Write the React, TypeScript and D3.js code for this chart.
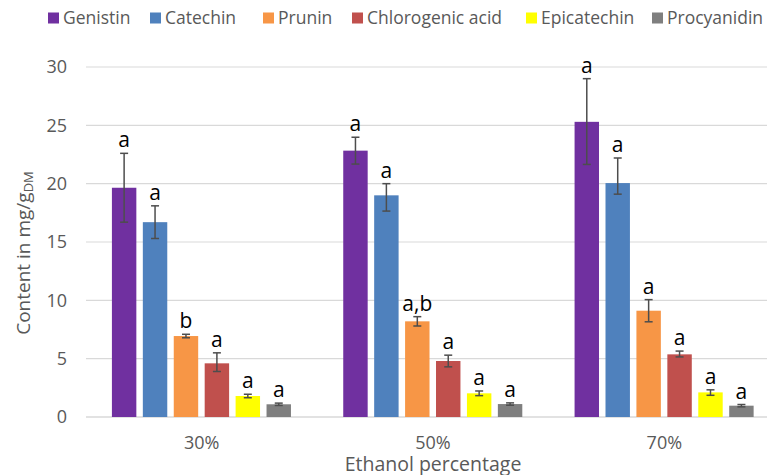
import React from "react";
import * as d3 from "d3";

const categories = ["30%", "50%", "70%"];
const seriesNames = ["Genistin", "Catechin", "Prunin", "Chlorogenic acid", "Epicatechin", "Procyanidin"];
const seriesColors = ["#7030a0", "#4f81bd", "#f79646", "#c0504d", "#ffff00", "#7f7f7f"];
// values[series][category]
const genistin = [19.65, 22.83, 25.3];
const catechin = [16.7, 19.0, 20.05];
const prunin = [6.94, 8.2, 9.11];
const chlorogenic = [4.6, 4.8, 5.37];
const epicatechin = [1.8, 2.03, 2.11];
const procyanidin = [1.09, 1.11, 0.97];
const errUp = [
  [2.95, 1.15, 3.7],
  [1.4, 1.0, 2.15],
  [0.15, 0.4, 0.95],
  [0.9, 0.5, 0.28],
  [0.15, 0.2, 0.22],
  [0.1, 0.1, 0.1],
];
const errDown = [
  [2.95, 1.15, 3.65],
  [1.4, 1.35, 0.95],
  [0.15, 0.4, 0.95],
  [0.7, 0.5, 0.22],
  [0.15, 0.2, 0.25],
  [0.1, 0.1, 0.1],
];
const letters = [
  ["a", "a", "a"],
  ["a", "a", "a"],
  ["b", "a,b", "a"],
  ["a", "a", "a"],
  ["a", "a", "a"],
  ["a", "a", "a"],
];
const yTicks = [0, 5, 10, 15, 20, 25, 30];

const values = [genistin, catechin, prunin, chlorogenic, epicatechin, procyanidin];

const FONT = "'Open Sans', 'Noto Sans', sans-serif";
const legendX = [48, 150, 263, 352, 526, 652];

export default function App() {
  const W = 767, H = 475;
  const y = d3.scaleLinear().domain([0, 30]).range([417, 67]);
  const x0 = d3.scaleBand<string>().domain(categories).range([86, 780]).padding(0);
  const bw0 = x0.bandwidth();
  const x1 = d3
    .scaleBand<string>()
    .domain(seriesNames)
    .range([bw0 * 0.112, bw0 * 0.886])
    .paddingInner(0.21)
    .paddingOuter(0);
  const bw = x1.bandwidth();

  return (
    <svg width={W} height={H} style={{ position: "absolute", left: 0, top: 0, background: "#fff" }}>
      <rect x={0} y={0} width={W} height={H} fill="#fff" />
      {/* gridlines */}
      {yTicks.map((t) => (
        <line key={t} x1={86} x2={W} y1={y(t)} y2={y(t)} stroke="#d9d9d9" strokeWidth={t === 0 ? 1.5 : 1.2} />
      ))}
      {/* y tick labels */}
      {yTicks.map((t) => (
        <text key={"l" + t} x={67} y={y(t)} dy="0.36em" textAnchor="end" fontFamily={FONT} fontSize={18} fill="#595959">
          {t}
        </text>
      ))}
      {/* y title */}
      <text
        transform={`translate(30,${253}) rotate(-90)`}
        textAnchor="middle"
        fontFamily={FONT}
        fontSize={19}
        fill="#595959"
      >
        Content in mg/g<tspan fontSize={13} dy={3}>DM</tspan>
      </text>
      {/* bars */}
      {categories.map((c, ci) => (
        <g key={c} transform={`translate(${x0(c)},0)`}>
          {seriesNames.map((s, si) => {
            const v = values[si][ci];
            const bx = x1(s)!;
            const cx = bx + bw / 2;
            const top = y(v + errUp[si][ci]);
            const bot = y(v - errDown[si][ci]);
            return (
              <g key={s}>
                <rect x={bx} y={y(v)} width={bw} height={y(0) - y(v)} fill={seriesColors[si]} />
                <line x1={cx} x2={cx} y1={top} y2={bot} stroke="#4d4d4d" strokeWidth={1.5} />
                <line x1={cx - 4} x2={cx + 4} y1={top} y2={top} stroke="#4d4d4d" strokeWidth={1.5} />
                <line x1={cx - 4} x2={cx + 4} y1={bot} y2={bot} stroke="#4d4d4d" strokeWidth={1.5} />
                <text x={cx} y={top - 6} textAnchor="middle" fontFamily={FONT} fontSize={21} fill="#000">
                  {letters[si][ci]}
                </text>
              </g>
            );
          })}
        </g>
      ))}
      {/* category labels */}
      {categories.map((c) => (
        <text key={"c" + c} x={x0(c)! + bw0 / 2} y={443} dy="0.36em" textAnchor="middle" fontFamily={FONT} fontSize={18} fill="#595959">
          {c}
        </text>
      ))}
      <text x={433} y={471} textAnchor="middle" fontFamily={FONT} fontSize={19.5} fill="#595959">
        Ethanol percentage
      </text>
      {/* legend */}
      {seriesNames.map((s, si) => (
        <g key={"lg" + s} transform={`translate(${legendX[si]},0)`}>
          <rect x={0} y={12.5} width={11} height={11} fill={seriesColors[si]} />
          <text x={15} y={18} dy="0.36em" fontFamily={FONT} fontSize={17.5} fill="#595959">
            {s}
          </text>
        </g>
      ))}
    </svg>
  );
}
